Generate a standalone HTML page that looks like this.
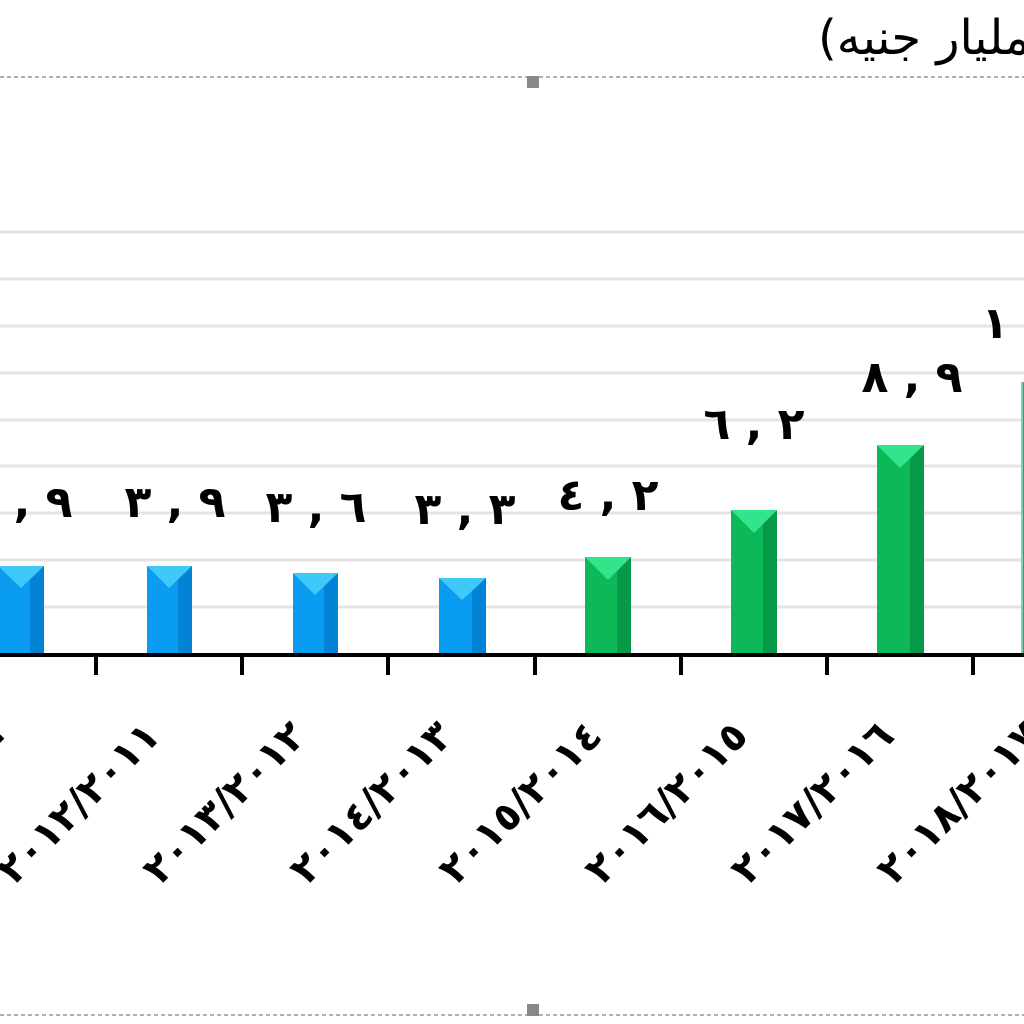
<!DOCTYPE html>
<html><head><meta charset="utf-8"><style>
html,body{margin:0;padding:0;background:#fff;width:1024px;height:1024px;overflow:hidden;position:relative}
.wrap{position:absolute;left:0;top:0;width:1024px;height:1024px;overflow:hidden}
.title{position:absolute;left:818px;top:10px;width:600px;direction:rtl;text-align:left;white-space:nowrap;font-family:"DejaVu Sans",sans-serif;font-size:48px;color:#000}
</style></head><body>
<div class="wrap">
<div class="title">(بالمليار جنيه)</div>
<svg width="1024" height="1024" style="position:absolute;left:0;top:0">
<line x1="0" y1="77" x2="1024" y2="77" stroke="#999" stroke-width="1.5" stroke-dasharray="4,3"/>
<line x1="0" y1="1015" x2="1024" y2="1015" stroke="#999" stroke-width="1.5" stroke-dasharray="4,3"/>
<rect x="527" y="76" width="12" height="12" fill="#888"/>
<rect x="527" y="1004" width="12" height="12" fill="#888"/>
<g stroke="#e4e4e4" stroke-width="3">
<line x1="0" y1="232" x2="1024" y2="232"/><line x1="0" y1="279" x2="1024" y2="279"/>
<line x1="0" y1="326" x2="1024" y2="326"/><line x1="0" y1="373" x2="1024" y2="373"/>
<line x1="0" y1="420" x2="1024" y2="420"/><line x1="0" y1="466" x2="1024" y2="466"/>
<line x1="0" y1="513" x2="1024" y2="513"/><line x1="0" y1="560" x2="1024" y2="560"/>
<line x1="0" y1="607" x2="1024" y2="607"/>
</g>
<g>
<rect x="-2" y="566" width="46" height="89" fill="#0a9cf0"/><rect x="30" y="566" width="14" height="89" fill="#0383d6"/><polygon points="-2,566 44,566 21,588" fill="#40c8f8"/>
<rect x="147" y="566" width="45" height="89" fill="#0a9cf0"/><rect x="178" y="566" width="14" height="89" fill="#0383d6"/><polygon points="147,566 192,566 169,588" fill="#40c8f8"/>
<rect x="293" y="573" width="45" height="82" fill="#0a9cf0"/><rect x="324" y="573" width="14" height="82" fill="#0383d6"/><polygon points="293,573 338,573 315,595" fill="#40c8f8"/>
<rect x="439" y="578" width="47" height="77" fill="#0a9cf0"/><rect x="472" y="578" width="14" height="77" fill="#0383d6"/><polygon points="439,578 486,578 462,600" fill="#40c8f8"/>
</g>
<g>
<rect x="585" y="557" width="46" height="98" fill="#0cb858"/><rect x="617" y="557" width="14" height="98" fill="#069a48"/><polygon points="585,557 631,557 608,580" fill="#34e48c"/>
<rect x="731" y="510" width="46" height="145" fill="#0cb858"/><rect x="763" y="510" width="14" height="145" fill="#069a48"/><polygon points="731,510 777,510 754,533" fill="#34e48c"/>
<rect x="877" y="445" width="47" height="210" fill="#0cb858"/><rect x="910" y="445" width="14" height="210" fill="#069a48"/><polygon points="877,445 924,445 900,468" fill="#34e48c"/>
<rect x="1021" y="382" width="10" height="273" fill="#0cb858"/><rect x="1021" y="382" width="2" height="273" fill="#80d0a8"/>
</g>
<line x1="0" y1="655" x2="1024" y2="655" stroke="#000" stroke-width="4"/>
<g stroke="#000" stroke-width="4">
<line x1="96" y1="655" x2="96" y2="675"/><line x1="242" y1="655" x2="242" y2="675"/>
<line x1="388" y1="655" x2="388" y2="675"/><line x1="535" y1="655" x2="535" y2="675"/>
<line x1="681" y1="655" x2="681" y2="675"/><line x1="827" y1="655" x2="827" y2="675"/>
<line x1="973" y1="655" x2="973" y2="675"/>
</g>
<g font-family="DejaVu Sans, sans-serif" font-weight="bold" font-size="44" text-anchor="middle" fill="#000" letter-spacing="8">
<text x="22" y="517">٩ , ٣</text>
<text x="175" y="517">٩ , ٣</text>
<text x="316" y="522">٦ , ٣</text>
<text x="465" y="524">٣ , ٣</text>
<text x="608" y="510">٢ , ٤</text>
<text x="754" y="439">٢ , ٦</text>
<text x="912" y="392">٩ , ٨</text>
<text x="995" y="338">١</text>
</g>
<g font-family="DejaVu Sans, sans-serif" font-weight="bold" font-size="40" text-anchor="end" fill="#000" style="direction:ltr;unicode-bidi:bidi-override" letter-spacing="12">
<text transform="translate(16,738) rotate(-45)">٢٠١١/٢٠١٠</text>
<text transform="translate(162,738) rotate(-45)">٢٠١٢/٢٠١١</text>
<text transform="translate(308,738) rotate(-45)">٢٠١٣/٢٠١٢</text>
<text transform="translate(455,738) rotate(-45)">٢٠١٤/٢٠١٣</text>
<text transform="translate(604,738) rotate(-45)">٢٠١٥/٢٠١٤</text>
<text transform="translate(750,738) rotate(-45)">٢٠١٦/٢٠١٥</text>
<text transform="translate(896,738) rotate(-45)">٢٠١٧/٢٠١٦</text>
<text transform="translate(1042,738) rotate(-45)">٢٠١٨/٢٠١٧</text>
</g>
</svg>
</div>
</body></html>
